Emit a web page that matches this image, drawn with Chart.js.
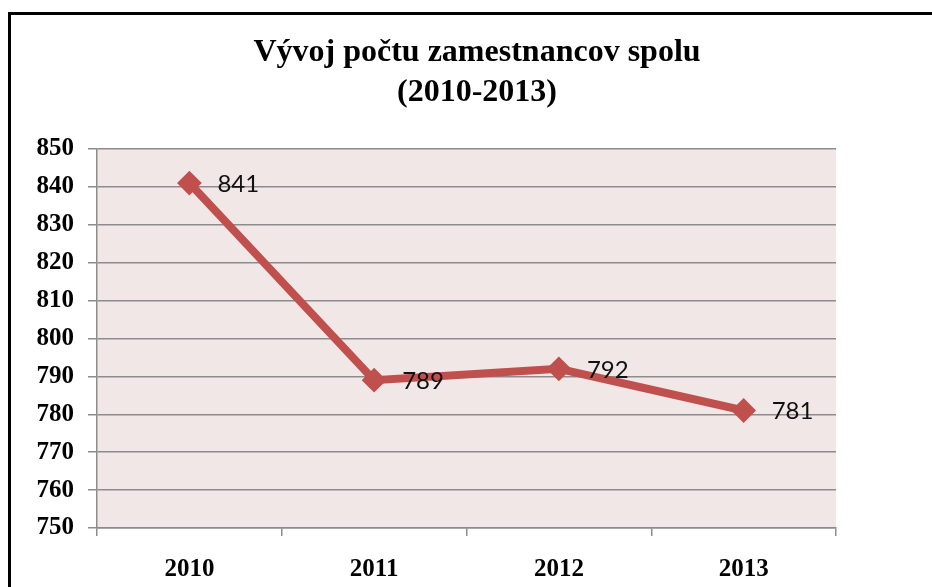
<!DOCTYPE html>
<html>
<head>
<meta charset="utf-8">
<script src="https://cdn.jsdelivr.net/npm/chart.js@4"></script>
<style>
  html, body { margin: 0; padding: 0; background: #fff; }
  #wrap { position: relative; width: 932px; height: 587px; overflow: hidden; }
  #frame { position: absolute; left: 8px; top: 12px; width: 1000px; height: 700px;
           border-left: 3px solid #000; border-top: 3px solid #000; }
  #chart { position: absolute; left: 0; top: 0; }
</style>
</head>
<body>
<div id="wrap">
  <div id="frame"></div>
  <canvas id="chart" width="932" height="587"></canvas>
</div>
<script>
// údaje grafu
const titleLines = ['Vývoj počtu zamestnancov spolu', '(2010-2013)'];
const years = ['2010', '2011', '2012', '2013'];
const employees = [841, 789, 792, 781];
const yMin = 750;
const yMax = 850;
const yStep = 10;

const lineColor = '#c0504d';

// pozadie plochy grafu
const plotBackground = {
    id: 'plotBackground',
    beforeDraw(chart) {
        const { ctx, chartArea: a } = chart;
        ctx.save();
        ctx.fillStyle = '#f2e7e7';
        ctx.fillRect(a.left, a.top, a.right - a.left, a.bottom - a.top);
        ctx.restore();
    }
};

// nadpis
const titlePlugin = {
    id: 'titlePlugin',
    afterDraw(chart) {
        const ctx = chart.ctx;
        ctx.save();
        ctx.fillStyle = '#000';
        ctx.font = 'bold 32px "Liberation Serif", "Times New Roman", serif';
        ctx.textAlign = 'center';
        ctx.textBaseline = 'middle';
        ctx.fillText(titleLines[0], 477, 53);
        ctx.fillText(titleLines[1], 477, 93);
        ctx.restore();
    }
};

// hodnoty pri bodoch
const valueLabels = {
    id: 'valueLabels',
    afterDatasetsDraw(chart) {
        const ctx = chart.ctx;
        const meta = chart.getDatasetMeta(0);
        ctx.save();
        ctx.fillStyle = '#111';
        ctx.font = '24px Lato, "Liberation Sans", sans-serif';
        ctx.textAlign = 'left';
        ctx.textBaseline = 'middle';
        meta.data.forEach((pt, i) => {
            ctx.fillText(String(employees[i]), pt.x + 28, pt.y + 1);
        });
        ctx.restore();
    }
};

const ctx = document.getElementById('chart').getContext('2d');
new Chart(ctx, {
    type: 'line',
    data: {
        labels: years,
        datasets: [{
            data: employees,
            borderColor: lineColor,
            backgroundColor: lineColor,
            borderWidth: 8,
            pointStyle: 'rectRot',
            pointRadius: 11,
            pointBorderWidth: 2,
            pointBackgroundColor: lineColor,
            pointBorderColor: lineColor,
            tension: 0,
            fill: false
        }]
    },
    options: {
        responsive: false,
        animation: false,
        devicePixelRatio: 1,
        layout: { padding: { left: 0, right: 96, top: 149, bottom: 0 } },
        plugins: {
            legend: { display: false },
            title: { display: false },
            tooltip: { enabled: false }
        },
        scales: {
            x: {
                offset: true,
                afterFit(scale) { scale.height = 59; },
                grid: {
                    offset: true,
                    drawOnChartArea: false,
                    drawTicks: true,
                    tickLength: 8,
                    color: '#8c8c8c',
                    lineWidth: 1.5
                },
                border: { color: '#8c8c8c', width: 1.5 },
                ticks: {
                    color: '#000',
                    padding: 19,
                    font: { family: '"Liberation Serif", "Times New Roman", serif', size: 25, weight: 'bold' }
                }
            },
            y: {
                min: yMin,
                max: yMax,
                afterFit(scale) { scale.width = 97; },
                ticks: {
                    stepSize: yStep,
                    color: '#000',
                    padding: 14,
                    font: { family: '"Liberation Serif", "Times New Roman", serif', size: 25, weight: 'bold' }
                },
                grid: {
                    color: '#8c8c8c',
                    lineWidth: 1.5,
                    tickLength: 9
                },
                border: { color: '#8c8c8c', width: 1.5 }
            }
        }
    },
    plugins: [plotBackground, titlePlugin, valueLabels]
});
</script>
</body>
</html>
